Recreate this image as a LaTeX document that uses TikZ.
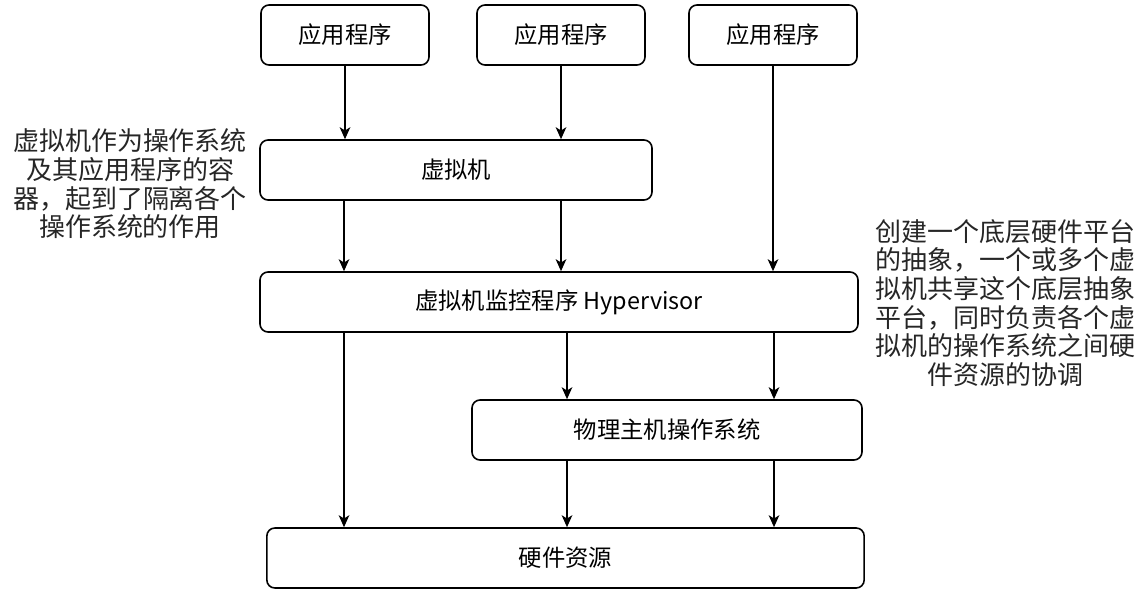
\documentclass[tikz,border=0pt]{standalone}
\usepackage{fontspec}
\setmainfont{Noto Sans CJK SC}
\usetikzlibrary{arrows.meta,positioning}

\begin{document}
\begin{tikzpicture}[x=0.75pt,y=-0.75pt,>={Stealth[length=9pt,width=8pt,inset=2.5pt]},
    box/.style={draw,line width=1.2pt,rounded corners=6pt,minimum height=45pt,
      inner sep=0pt,font=\fontsize{17.5}{20}\selectfont},
    wire/.style={->,line width=1.2pt},
    note/.style={align=center,text=black!85,font=\fontsize{19.5}{21.5}\selectfont}]
    \useasboundingbox (0,0) rectangle (1146,598);
    % --- lanes for the vertical connectors ---
    \coordinate (lane1) at (344,0);
    \coordinate (lane2) at (567,0);
    \coordinate (lane3) at (774,0);
    % --- boxes ---
    \node[box,minimum width=126pt] (app1) at (345,35) {应用程序};
    \node[box,minimum width=126pt] (app2) at (561,35) {应用程序};
    \node[box,minimum width=126pt] (app3) at (773,35) {应用程序};
    \node[box,minimum width=294pt] (vm) at (456,170) {虚拟机};
    \node[box,minimum width=448.5pt] (hyp) at (559,302) {虚拟机监控程序 Hypervisor};
    \node[box,minimum width=292.5pt] (host) at (667,430) {物理主机操作系统};
    \node[box,minimum width=448pt] (hw) at (565.5,558) {硬件资源};
    % --- notes ---
    \node[note] (vmnote) at (130,184)
      {虚拟机作为操作系统\\及其应用程序的容\\器，起到了隔离各个\\操作系统的作用};
    \node[note] (hypnote) at (1005,303)
      {创建一个底层硬件平台\\的抽象，一个或多个虚\\拟机共享这个底层抽象\\平台，同时负责各个虚\\拟机的操作系统之间硬\\件资源的协调};
    % --- connectors ---
    \draw[wire] (app1) -- (app1 |- vm.north);
    \draw[wire] (app2) -- (app2 |- vm.north);
    \draw[wire] (app3) -- (app3 |- hyp.north);
    \draw[wire] (vm.south -| lane1) -- (hyp.north -| lane1);
    \draw[wire] (vm.south -| app2) -- (hyp.north -| app2);
    \draw[wire] (hyp.south -| lane1) -- (hw.north -| lane1);
    \draw[wire] (hyp.south -| lane2) -- (host.north -| lane2);
    \draw[wire] (hyp.south -| lane3) -- (host.north -| lane3);
    \draw[wire] (host.south -| lane2) -- (hw.north -| lane2);
    \draw[wire] (host.south -| lane3) -- (hw.north -| lane3);
\end{tikzpicture}
\end{document}
